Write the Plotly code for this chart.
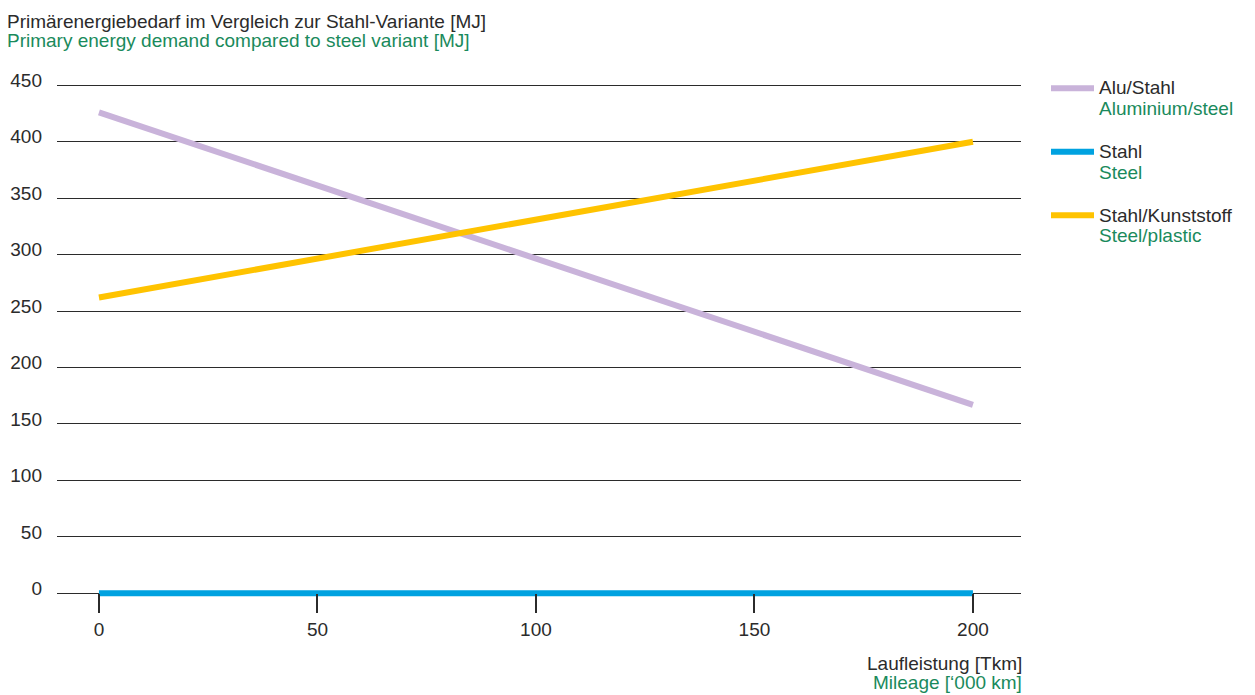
import plotly.graph_objects as go

mileage = [0, 200]
alu_stahl = [426, 167]
stahl = [0, 0]
stahl_kunststoff = [262, 400]

x_ticks = [0, 50, 100, 150, 200]
y_ticks = [0, 50, 100, 150, 200, 250, 300, 350, 400, 450]

series = [
    ("Alu/Stahl", "Aluminium/steel", alu_stahl, "#C9B3DA"),
    ("Stahl", "Steel", stahl, "#00A2E0"),
    ("Stahl/Kunststoff", "Steel/plastic", stahl_kunststoff, "#FFC300"),
]

GREEN = "#1A8A5C"
DARK = "#2b2b2b"
FONT = "Liberation Sans"
FS = 19

W, H = 1247, 687
PL, PR = 49, 1013
Y_LO, Y_HI = -5, 452
PX_PER_UNIT = (585 - 77) / 450.0
PT = 77 - (Y_HI - 450) * PX_PER_UNIT
PB = 585 + (0 - Y_LO) * PX_PER_UNIT
PH = PB - PT
PW = PR - PL


def py(fig_y):
    return (PB - fig_y) / PH


def px(fig_x):
    return (fig_x - PL) / PW


def big(t):
    return f"<span style='font-size:{FS}px'>{t}</span>"


fig = go.Figure()
for i, (de, en, vals, col) in enumerate(series):
    fig.add_trace(go.Scatter(
        x=mileage, y=vals, mode="lines",
        line=dict(color=col, width=6),
        name=big(de) + "<br>" + f"<span style='font-size:{FS}px;color:{GREEN}'>{en}</span>",
        legendgroup=f"g{i}",
        cliponaxis=False,
    ))


def ann(text, x, y, xanchor, color=DARK):
    return dict(xref="paper", yref="paper", x=x, y=y, xanchor=xanchor, yanchor="middle",
                showarrow=False, text=text, font=dict(family=FONT, size=FS, color=color))


fig.update_layout(
    width=W, height=H,
    paper_bgcolor="white", plot_bgcolor="white",
    margin=dict(l=PL, r=W - PR, t=PT, b=H - PB, autoexpand=False),
    font=dict(family=FONT, size=FS, color=DARK),
    showlegend=True,
    legend=dict(
        x=px(1038), y=py(63), xanchor="left", yanchor="top",
        font=dict(family=FONT, size=16, color=DARK),
        valign="top", tracegroupgap=19, itemwidth=43,
        bgcolor="rgba(0,0,0,0)",
    ),
    xaxis=dict(
        range=[-9.6, 211], tickvals=x_ticks, ticktext=[str(v) for v in x_ticks],
        showgrid=False, zeroline=False, showline=False,
        ticks="outside", ticklen=19, tickwidth=1.5, tickcolor=DARK,
        anchor="free", position=(0 - Y_LO) / (Y_HI - Y_LO),
        tickfont=dict(family=FONT, size=FS, color=DARK),
    ),
    yaxis=dict(
        range=[Y_LO, Y_HI], tickvals=y_ticks, ticktext=[str(v) for v in y_ticks],
        showgrid=True, gridcolor=DARK, gridwidth=1.2, zeroline=False, showline=False,
        ticks="", ticklabelstandoff=14, ticklabelshift=-5,
        tickfont=dict(family=FONT, size=FS, color=DARK),
    ),
    annotations=[
        ann("Primärenergiebedarf im Vergleich zur Stahl-Variante [MJ]", px(-3), py(13), "left"),
        ann("Primary energy demand compared to steel variant [MJ]", px(-3), py(32), "left", GREEN),
        ann("Laufleistung [Tkm]", px(PR + 3), py(655), "right"),
        ann("Mileage [‘000 km]", px(PR + 3), py(674), "right", GREEN),
    ],
)

fig.write_html("out.html")
